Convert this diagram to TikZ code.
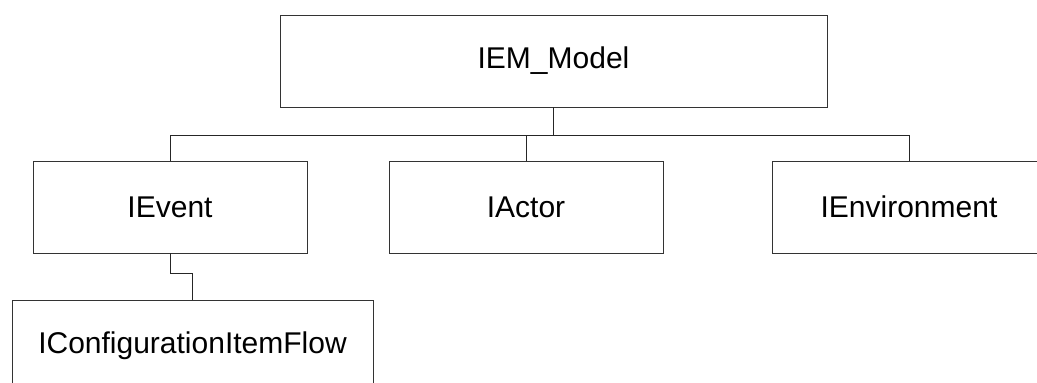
\documentclass[tikz,border=0pt]{standalone}
\usepackage{fontspec}
\setmainfont{Liberation Sans}
\begin{document}
\begin{tikzpicture}[x=1pt,y=-1pt,
  box/.style={draw=black!80, line width=1pt, fill=white, inner sep=0pt, outer sep=0pt,
              minimum height=92pt, font=\fontsize{30}{36}\selectfont},
  link/.style={draw=black!85, line width=1pt}]
  % page frame (boxes at the edges are cut by it)
  \clip (0,0) rectangle (1037,383);
  \fill[white] (0,0) rectangle (1037,383);

  % class boxes
  \node[box, minimum width=547pt] (model) at (553.5,61) {IEM\_Model};
  \node[box, minimum width=274pt] (event) at (170,207) {IEvent};
  \node[box, minimum width=274pt] (actor) at (526,207) {IActor};
  \node[box, minimum width=274pt] (env)   at (909,207) {IEnvironment};
  \node[box, minimum width=361pt] (flow)  at (192.5,346) {IConfigurationItemFlow};

  % tree connectors
  \coordinate (bus) at (553.5,135);
  \coordinate (jog) at (170,273);
  \draw[link] (model.south) -- (bus) -| (event.north);
  \draw[link] (bus) -| (actor.north);
  \draw[link] (bus) -| (env.north);
  \draw[link] (event.south) -- (jog) -| (flow.north);
\end{tikzpicture}
\end{document}
